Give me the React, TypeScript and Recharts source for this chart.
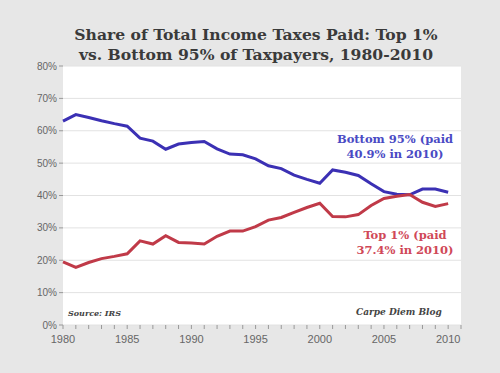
import { LineChart, Line, XAxis, YAxis, CartesianGrid } from "recharts"

const years = [
  1980, 1981, 1982, 1983, 1984, 1985, 1986, 1987, 1988, 1989, 1990,
  1991, 1992, 1993, 1994, 1995, 1996, 1997, 1998, 1999, 2000,
  2001, 2002, 2003, 2004, 2005, 2006, 2007, 2008, 2009, 2010,
]
const bottom95 = [
  63.0, 65.0, 64.1, 63.1, 62.2, 61.4, 57.7, 56.8, 54.3, 55.9, 56.4,
  56.7, 54.4, 52.8, 52.6, 51.3, 49.2, 48.3, 46.3, 45.0, 43.8,
  47.9, 47.2, 46.2, 43.6, 41.2, 40.4, 40.2, 42.0, 42.0, 41.0,
]
const top1 = [
  19.5, 17.8, 19.3, 20.5, 21.2, 22.0, 26.0, 25.0, 27.6, 25.5, 25.3,
  25.0, 27.4, 29.0, 29.0, 30.4, 32.4, 33.2, 34.8, 36.3, 37.6,
  33.5, 33.4, 34.1, 36.9, 39.1, 39.8, 40.3, 37.9, 36.6, 37.5,
]
const yTicks = [0, 10, 20, 30, 40, 50, 60, 70, 80]
const xTicks = [
  1980, 1981, 1982, 1983, 1984, 1985, 1986, 1987, 1988, 1989, 1990,
  1991, 1992, 1993, 1994, 1995, 1996, 1997, 1998, 1999, 2000,
  2001, 2002, 2003, 2004, 2005, 2006, 2007, 2008, 2009, 2010, 2011,
]

const data = years.map((year, i) => ({ year, bottom95: bottom95[i], top1: top1[i] }))

const serif = "'DejaVu Serif', 'Liberation Serif', serif"

export default function App() {
  return (
    <div style={{ position: "absolute", left: 0, top: 0, width: 500, height: 373, background: "#e7e7e7", overflow: "hidden" }}>
      <div
        style={{
          position: "absolute", left: 0, top: 25, width: 512, textAlign: "center",
          fontFamily: serif, fontWeight: "bold", fontSize: 15.6, lineHeight: "20px", color: "#3a3a3a",
        }}
      >
        Share of Total Income Taxes Paid: Top 1%
        <br />
        vs. Bottom 95% of Taxpayers, 1980-2010
      </div>
      <LineChart width={500} height={373} data={data} margin={{ top: 66, right: 39, left: 0, bottom: 18 }}>
        <CartesianGrid vertical={false} stroke="#e2e2e2" fill="#ffffff" />
        <XAxis
          dataKey="year"
          type="number"
          domain={[1980, 2011]}
          ticks={xTicks}
          interval={0}
          tickFormatter={(v: number) => (v % 5 === 0 && v <= 2010 ? String(v) : "")}
          axisLine={false}
          tickLine={{ stroke: "#999" }}
          tickSize={4}
          tickMargin={6}
          height={30}
          tick={{ fill: "#666", fontSize: 11, fontFamily: "'Liberation Sans', Arial, sans-serif" }}
        />
        <YAxis
          domain={[0, 80]}
          ticks={yTicks}
          tickFormatter={(v: number) => `${v}%`}
          axisLine={false}
          tickLine={{ stroke: "#999" }}
          tickSize={4}
          width={63}
          tick={{ fill: "#666", fontSize: 10, fontFamily: "'Liberation Sans', Arial, sans-serif" }}
        />
        <Line dataKey="bottom95" stroke="#3b30b4" strokeWidth={3} dot={false} isAnimationActive={false} />
        <Line dataKey="top1" stroke="#c03a48" strokeWidth={3} dot={false} isAnimationActive={false} />
      </LineChart>
      <div
        style={{
          position: "absolute", left: 323, top: 132, width: 144, textAlign: "center",
          fontFamily: serif, fontSize: 11.5, fontWeight: 600, lineHeight: "15px", color: "#4a4ac4",
        }}
      >
        Bottom 95% (paid
        <br />
        40.9% in 2010)
      </div>
      <div
        style={{
          position: "absolute", left: 333, top: 228, width: 144, textAlign: "center",
          fontFamily: serif, fontSize: 11.5, fontWeight: 600, lineHeight: "15px", color: "#d04858",
        }}
      >
        Top 1% (paid
        <br />
        37.4% in 2010)
      </div>
      <div
        style={{
          position: "absolute", left: 68, top: 308, fontFamily: serif, fontStyle: "italic",
          fontWeight: "bold", fontSize: 8, color: "#444",
        }}
      >
        Source: IRS
      </div>
      <div
        style={{
          position: "absolute", left: 356, top: 307, fontFamily: serif, fontStyle: "italic",
          fontWeight: "bold", fontSize: 9, color: "#444",
        }}
      >
        Carpe Diem Blog
      </div>
    </div>
  )
}
